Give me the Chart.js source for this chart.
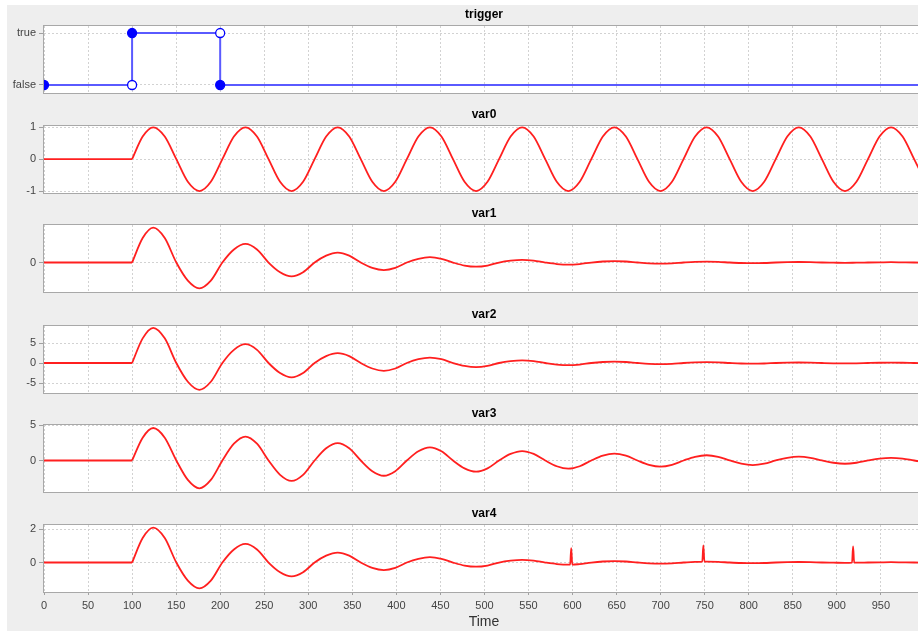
<!DOCTYPE html>
<html><head><meta charset="utf-8">
<script src="https://cdn.jsdelivr.net/npm/chart.js@4/dist/chart.umd.min.js"></script>
<style>
html,body{margin:0;padding:0;width:918px;height:631px;overflow:hidden;background:#ffffff;}
#bg{position:absolute;left:7px;top:5px;width:911px;height:626px;background:#eeeeee;}
canvas{position:absolute;left:7px;}
</style></head><body>
<div id="bg"></div>
<script>
// ---------- data ----------
const time = [0, 100, 112, 124.0, 137.1, 150.2, 163.3, 176.4, 189.4, 202.5, 215.6, 228.7, 241.8, 254.9, 268.0, 281.1, 294.1, 307.2, 320.3, 333.4, 346.5, 359.6, 372.7, 385.8, 398.8, 411.9, 425.0, 438.1, 451.2, 464.3, 477.4, 490.5, 503.5, 516.6, 529.7, 542.8, 555.9, 569.0, 582.1, 595.2, 608.2, 621.3, 634.4, 647.5, 660.6, 673.7, 686.8, 699.9, 712.9, 726.0, 739.1, 752.2, 765.3, 778.4, 791.5, 804.6, 817.6, 830.7, 843.8, 856.9, 870.0, 883.1, 896.2, 909.3, 922.3, 935.4, 948.5, 961.6, 974.7, 987.8, 999];

const var0 = [0, 0, 0.71,
  1, 0.71, 0, -0.71,  -1, -0.71, 0, 0.71,
  1, 0.71, 0, -0.71,  -1, -0.71, 0, 0.71,
  1, 0.71, 0, -0.71,  -1, -0.71, 0, 0.71,
  1, 0.71, 0, -0.71,  -1, -0.71, 0, 0.71,
  1, 0.71, 0, -0.71,  -1, -0.71, 0, 0.71,
  1, 0.71, 0, -0.71,  -1, -0.71, 0, 0.71,
  1, 0.71, 0, -0.71,  -1, -0.71, 0, 0.71,
  1, 0.71, 0, -0.71,  -1, -0.71, 0, 0.71,
  1, 0.71, 0, -0.62];

const var1 = [0, 0, 1.46,
  2.08, 1.46, 0, -1.08,   -1.54, -1.08, 0, 0.78,
  1.11, 0.78, 0, -0.58,   -0.83, -0.58, 0, 0.41,
  0.59, 0.41, 0, -0.32,   -0.45, -0.32, 0, 0.22,
  0.32, 0.22, 0, -0.18,   -0.25, -0.18, 0, 0.11,
  0.16, 0.11, 0, -0.09,   -0.13, -0.09, 0, 0.06,
  0.08, 0.06, 0, -0.05,   -0.07, -0.05, 0, 0.04,
  0.05, 0.04, 0, -0.03,   -0.04, -0.03, 0, 0.02,
  0.03, 0.02, 0, -0.01,   -0.02, -0.01, 0, 0.01,
  0.02, 0.01, 0, -0.01];

const var2 = [0, 0, 6.16,
  8.8, 6.16, 0, -4.69,    -6.7, -4.69, 0, 3.29,
  4.7, 3.29, 0, -2.52,    -3.6, -2.52, 0, 1.72,
  2.45, 1.72, 0, -1.37,   -1.95, -1.37, 0, 0.95,
  1.35, 0.95, 0, -0.74,   -1.05, -0.74, 0, 0.46,
  0.65, 0.46, 0, -0.39,   -0.55, -0.39, 0, 0.25,
  0.35, 0.25, 0, -0.21,   -0.3, -0.21, 0, 0.14,
  0.2, 0.14, 0, -0.12,    -0.17, -0.12, 0, 0.08,
  0.12, 0.08, 0, -0.07,   -0.1, -0.07, 0, 0.06,
  0.08, 0.06, 0, -0.04];

const var3 = [0, 0, 3.21,
  4.58, 3.21, 0, -2.74,   -3.92, -2.74, 0, 2.36,
  3.37, 2.36, 0, -2.02,   -2.88, -2.02, 0, 1.72,
  2.46, 1.72, 0, -1.5,    -2.15, -1.5, 0, 1.3,
  1.85, 1.3, 0, -1.11,    -1.58, -1.11, 0, 0.92,
  1.32, 0.92, 0, -0.81,   -1.16, -0.81, 0, 0.69,
  0.98, 0.69, 0, -0.61,   -0.87, -0.61, 0, 0.52,
  0.74, 0.52, 0, -0.45,   -0.64, -0.45, 0, 0.38,
  0.54, 0.38, 0, -0.32,   -0.46, -0.32, 0, 0.27,
  0.38, 0.27, 0, -0.2];

const var4 = [0, 0, 1.46,
  2.08, 1.46, 0, -1.08,   -1.54, -1.08, 0, 0.78,
  1.11, 0.78, 0, -0.58,   -0.83, -0.58, 0, 0.41,
  0.59, 0.41, 0, -0.32,   -0.45, -0.32, 0, 0.22,
  0.32, 0.22, 0, -0.18,   -0.25, -0.18, 0, 0.11,
  0.16, 0.11, 0, -0.09,   -0.13, -0.09, 0, 0.06,
  0.08, 0.06, 0, -0.05,   -0.07, -0.05, 0, 0.04,
  0.05, 0.04, 0, -0.03,   -0.04, -0.03, 0, 0.02,
  0.03, 0.02, 0, -0.01,   -0.02, -0.01, 0, 0.01,
  0.02, 0.01, 0, -0.01];

// spikes seen in var4
const spikeTimes = [598.5, 748.5, 918.5];
const spikePeaks = [0.86, 1.02, 0.96];
const spikeBases = [-0.13, 0.05, -0.01];
const spikeHalfWidth = 1.2;

// trigger (boolean step signal)
const triggerTimes = [0, 100, 100, 200, 200, 999];
const triggerStates = [false, false, true, true, false, false];
const triggerSampled = [true, false, true, false, true, true];

const triggerAt = 100; // time when oscillation starts

// axes
const xTicks = [0, 50, 100, 150, 200, 250, 300, 350, 400, 450, 500, 550, 600, 650, 700, 750, 800, 850, 900, 950];
const xRange = [0, 999];
const triggerTicks = [0, 1];
const triggerTickLabels = ['false', 'true'];
const var0Ticks = [-1, 0, 1];
const var1Ticks = [0];
const var2Ticks = [-5, 0, 5];
const var3Ticks = [0, 5];
const var4Ticks = [0, 2];
const triggerRange = [-0.154, 1.135];
const var0Range = [-1.06, 1.04];
const var1Range = [-1.76, 2.24];
const var2Range = [-7.5, 9.25];
const var3Range = [-4.44, 5.0];
const var4Range = [-1.76, 2.24];

// ---------- drawing ----------
const FONT = '"Liberation Sans", Arial, sans-serif';
const plotTops = [26, 126, 225, 326, 425, 525];
const plotHeight = 67;
const titleSpace = 23;
const xAxisHeight = 39;
const canvasWidth = 917;
const RED = '#ff1f1f';

const frame = {
  id: 'frame',
  beforeDraw(chart) {
    const {ctx, chartArea: a} = chart;
    ctx.save();
    ctx.fillStyle = '#ffffff';
    ctx.fillRect(a.left, a.top, a.right - a.left, a.bottom - a.top);
    ctx.restore();
  },
  beforeDatasetsDraw(chart) {
    const {ctx, chartArea: a} = chart;
    ctx.save();
    ctx.strokeStyle = '#a8a8a8';
    ctx.lineWidth = 1;
    ctx.strokeRect(Math.round(a.left) - 0.5, Math.round(a.top) - 0.5,
                   Math.round(a.right - a.left) + 1, Math.round(a.bottom - a.top) + 1);
    ctx.restore();
  }
};

function splitSeries(values, extra) {
  const pts = time.map((t, i) => ({x: t, y: values[i]}));
  let post = pts.filter(p => p.x >= triggerAt);
  if (extra) post = post.concat(extra).sort((a, b) => a.x - b.x);
  return [pts.filter(p => p.x <= triggerAt), post];
}

function lineDatasets(values, extra) {
  return splitSeries(values, extra).map(data => ({
    data, borderColor: RED, borderWidth: 1.8, pointRadius: 0,
    cubicInterpolationMode: 'monotone', fill: false
  }));
}

function makePanel(idx, name, datasets, range, ticks, labelFn) {
  const isBottom = idx === plotTops.length - 1;
  const top = plotTops[idx] - titleSpace;
  const height = isBottom ? 631 - top : titleSpace + plotHeight + 1;
  const c = document.createElement('canvas');
  c.width = canvasWidth; c.height = height;
  c.style.top = top + 'px';
  c.style.width = canvasWidth + 'px'; c.style.height = height + 'px';
  document.body.appendChild(c);
  new Chart(c, {
    type: 'line',
    data: {datasets},
    options: {
      responsive: false, animation: false, devicePixelRatio: 1,
      layout: {autoPadding: false, padding: {top: 0, left: 0, right: 0, bottom: isBottom ? 0 : 1}},
      plugins: {
        legend: {display: false}, tooltip: {enabled: false},
        title: {display: true, text: name, fullSize: false, color: '#000',
                font: {family: FONT, size: 12, weight: 'bold'},
                padding: {top: 4.1, bottom: 4.5}}
      },
      scales: {
        x: {
          type: 'linear', min: xRange[0], max: xRange[1],
          border: {display: false, dash: [2, 2]},
          afterBuildTicks: s => { s.ticks = xTicks.map(v => ({value: v})); },
          afterFit: s => { s.height = isBottom ? xAxisHeight : 0; s.paddingLeft = 0; s.paddingRight = 0; },
          grid: {color: '#d2d2d2', drawTicks: isBottom, tickLength: 3,
                 tickColor: '#a0a0a0', tickBorderDash: []},
          ticks: {display: isBottom, padding: 4, color: '#444', maxRotation: 0, autoSkip: false,
                  font: {family: FONT, size: 11}},
          title: {display: isBottom, text: 'Time', color: '#333',
                  font: {family: FONT, size: 14}, padding: {top: 0, bottom: 0}}
        },
        y: {
          type: 'linear', min: range[0], max: range[1],
          border: {display: false, dash: [2, 2]},
          afterBuildTicks: s => { s.ticks = ticks.map(v => ({value: v})); },
          afterFit: s => { s.width = 37; s.paddingTop = 0; s.paddingBottom = 0; },
          grid: {color: '#d2d2d2', drawTicks: true, tickLength: 5,
                 tickColor: '#a0a0a0', tickBorderDash: []},
          ticks: {padding: 3, color: '#444', font: {family: FONT, size: 11},
                  callback: labelFn || (v => String(v))}
        }
      }
    },
    plugins: [frame]
  });
}

// trigger panel
const triggerData = triggerTimes.map((t, i) => ({x: t, y: triggerStates[i] ? 1 : 0}));
makePanel(0, 'trigger', [{
  data: triggerData, borderColor: '#5a5aff', borderWidth: 2, tension: 0,
  pointRadius: 4.5, pointBorderWidth: 1.3, pointBorderColor: '#0000ff',
  pointBackgroundColor: triggerSampled.map(f => f ? '#0000ff' : '#ffffff')
}], triggerRange, triggerTicks, v => triggerTickLabels[triggerTicks.indexOf(v)] || '');

makePanel(1, 'var0', lineDatasets(var0), var0Range, var0Ticks);
makePanel(2, 'var1', lineDatasets(var1), var1Range, var1Ticks);
makePanel(3, 'var2', lineDatasets(var2), var2Range, var2Ticks);
makePanel(4, 'var3', lineDatasets(var3), var3Range, var3Ticks);

const spikePoints = [];
spikeTimes.forEach((s, i) => {
  spikePoints.push({x: s - spikeHalfWidth, y: spikeBases[i]});
  spikePoints.push({x: s, y: spikePeaks[i]});
  spikePoints.push({x: s + spikeHalfWidth, y: spikeBases[i]});
});
makePanel(5, 'var4', lineDatasets(var4, spikePoints), var4Range, var4Ticks);
</script>
</body></html>
